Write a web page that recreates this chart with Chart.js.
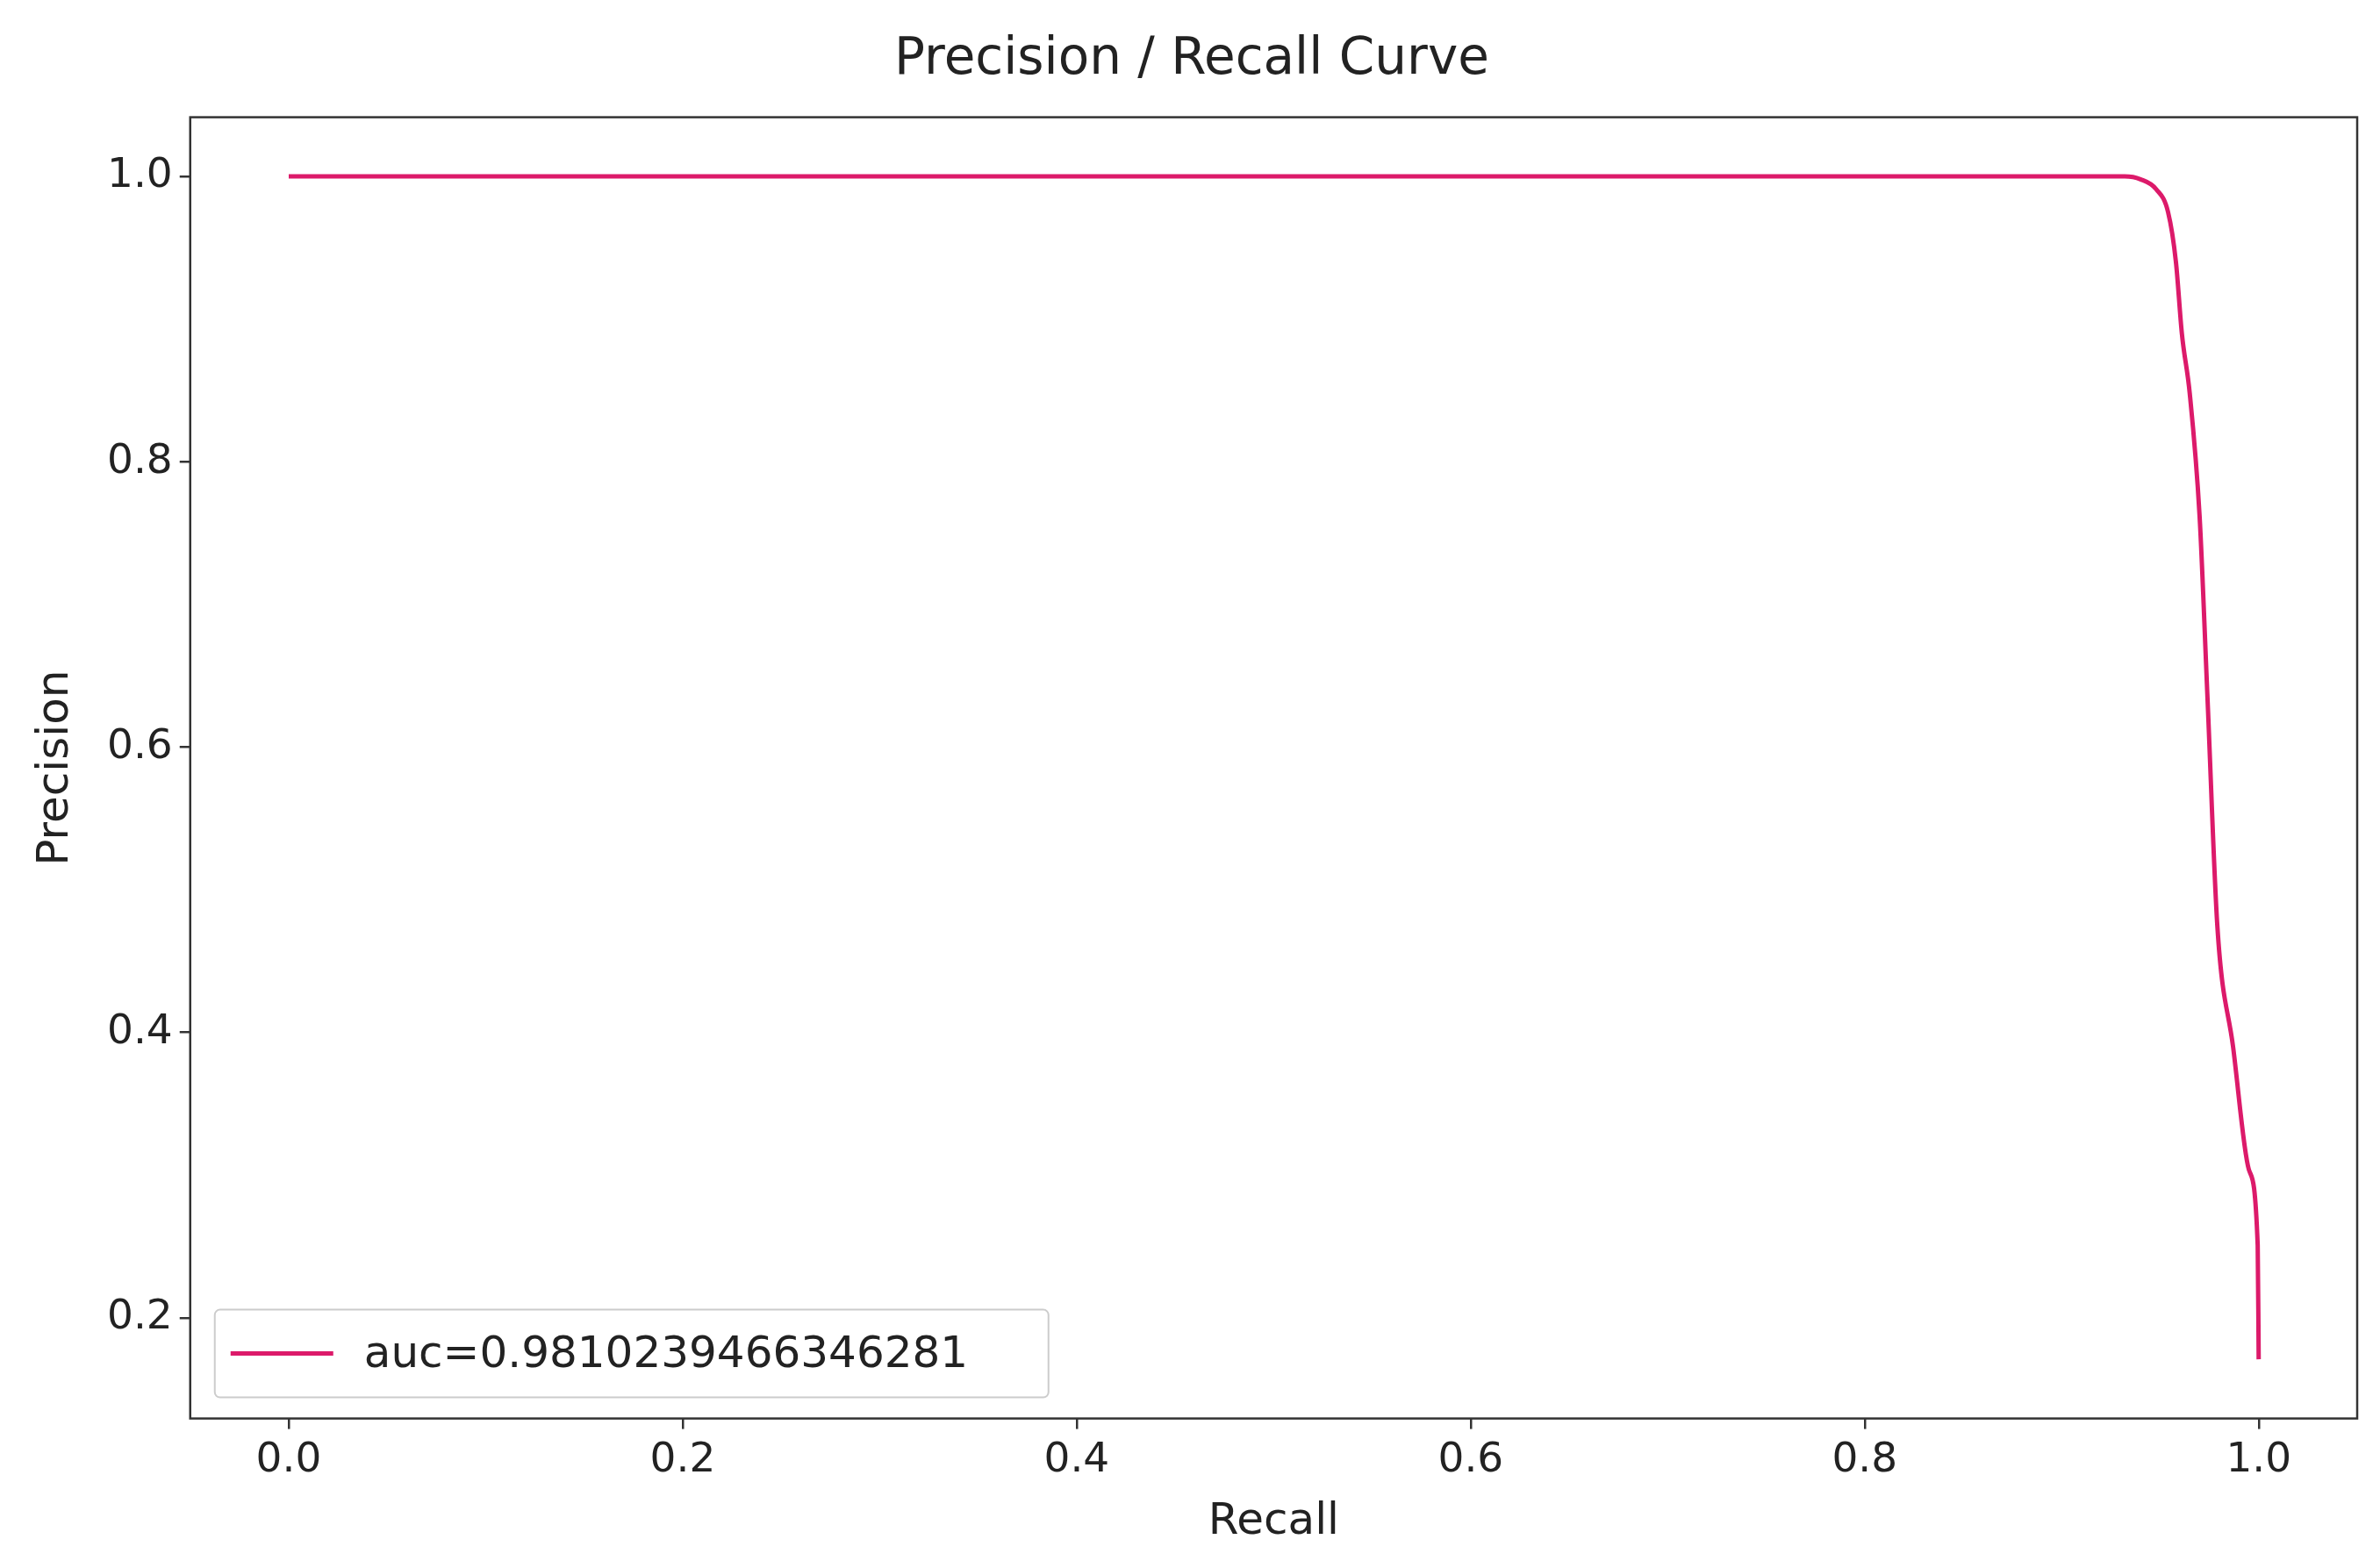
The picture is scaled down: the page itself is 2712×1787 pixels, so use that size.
<!DOCTYPE html>
<html>
<head>
<meta charset="utf-8">
<script src="https://cdn.jsdelivr.net/npm/chart.js@4/dist/chart.umd.min.js"></script>
<style>
  html,body{margin:0;padding:0;background:#fff}
  #wrap{width:2712px;height:1787px}
</style>
</head>
<body>
<div id="wrap"><canvas id="c" width="2712" height="1787"></canvas></div>
<script>
// values
const recall    = [0.0, 0.3, 0.6, 0.9, 0.932, 0.94, 0.948, 0.954, 0.958, 0.961, 0.965, 0.970, 0.974, 0.979, 0.987, 0.995, 0.9995, 1.0];
const precision = [1.0, 1.0, 1.0, 1.0, 1.0,   0.998, 0.991, 0.975, 0.94, 0.89, 0.848, 0.762, 0.635, 0.475, 0.39, 0.304, 0.251, 0.171];
const xTicks = [0.0, 0.2, 0.4, 0.6, 0.8, 1.0];
const yTicks = [0.2, 0.4, 0.6, 0.8, 1.0];
const seriesLabel = 'auc=0.9810239466346281';
const lineColor = '#dc1a6a';

const FONT = 'DejaVu Sans';

// frame + matplotlib-like legend in lower left
const framePlugin = {
  id:'frame',
  afterDraw(chart){
    const {ctx, chartArea:a} = chart;
    ctx.save();
    ctx.strokeStyle = '#333'; ctx.lineWidth = 2.5;
    ctx.strokeRect(a.left, a.top, a.right-a.left, a.bottom-a.top);
    // legend
    const bx = a.left + 28, bh = 100, by = a.bottom - 24 - bh, bw = 950;
    ctx.fillStyle = 'rgba(255,255,255,0.8)';
    ctx.strokeStyle = '#ccc'; ctx.lineWidth = 2;
    ctx.beginPath(); ctx.roundRect(bx, by, bw, bh, 6); ctx.fill(); ctx.stroke();
    ctx.strokeStyle = lineColor; ctx.lineWidth = 5;
    ctx.beginPath(); ctx.moveTo(bx+18, by+bh/2); ctx.lineTo(bx+135, by+bh/2); ctx.stroke();
    ctx.fillStyle = '#222'; ctx.font = `50px "${FONT}"`; ctx.textBaseline = 'middle';
    ctx.fillText(chart.data.datasets[0].label, bx+170, by+bh/2+2);
    ctx.restore();
  }
};

new Chart(document.getElementById('c'), {
  type:'scatter',
  data:{ datasets:[{
    label: seriesLabel,
    data: recall.map((r,i)=>({x:r, y:precision[i]})),
    showLine:true, borderColor:lineColor, borderWidth:5, pointRadius:0, tension:0.3, cubicInterpolationMode:'monotone', fill:false
  }]},
  options:{
    responsive:false, animation:false, devicePixelRatio:1,
    layout:{ padding:{ left:30, right:26, top:0, bottom:18 } },
    plugins:{
      legend:{display:false}, tooltip:{enabled:false},
      title:{ display:true, text:'Precision / Recall Curve', color:'#222',
        font:{family:FONT, size:58, weight:'normal'}, padding:{top:34, bottom:30} }
    },
    scales:{
      x:{ type:'linear', min:-0.05, max:1.05,
        afterBuildTicks: ax => { ax.ticks = xTicks.map(v=>({value:v})); },
        ticks:{ color:'#222', font:{family:FONT, size:47}, padding:8, callback:v=>v.toFixed(1), maxRotation:0 },
        grid:{ drawOnChartArea:false, tickLength:12, color:'#333', lineWidth:2.5 },
        border:{ display:false },
        title:{ display:true, text:'Recall', color:'#222', font:{family:FONT, size:50}, padding:{top:4} } },
      y:{ type:'linear', min:0.1295, max:1.0415,
        afterBuildTicks: ax => { ax.ticks = yTicks.map(v=>({value:v})); },
        ticks:{ color:'#222', font:{family:FONT, size:47}, padding:8, callback:v=>v.toFixed(1) },
        grid:{ drawOnChartArea:false, tickLength:12, color:'#333', lineWidth:2.5 },
        border:{ display:false },
        title:{ display:true, text:'Precision', color:'#222', font:{family:FONT, size:50}, padding:{bottom:20} } }
    }
  },
  plugins:[framePlugin]
});
</script>
</body>
</html>
